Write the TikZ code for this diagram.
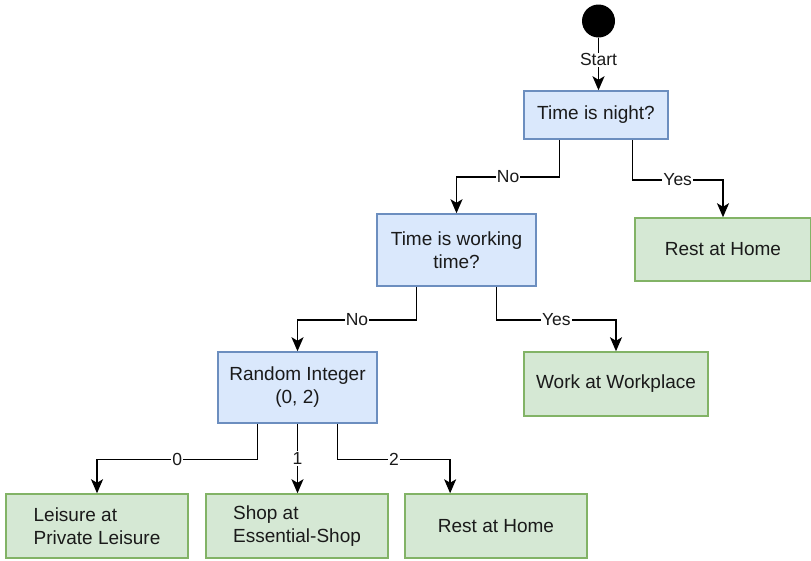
\documentclass[tikz,border=0pt]{standalone}
\usepackage{fontspec}
\setmainfont{Liberation Sans}
\usetikzlibrary{arrows.meta,calc}
\definecolor{qfill}{HTML}{DAE8FC}
\definecolor{qline}{HTML}{6C8EBF}
\definecolor{afill}{HTML}{D5E8D4}
\definecolor{aline}{HTML}{82B366}
\definecolor{ink}{HTML}{1A1A1A}

\begin{document}
\begin{tikzpicture}[x=1pt,y=-1pt,
  question/.style={rectangle, draw=qline, fill=qfill, line width=1.5pt,
    align=center, inner sep=0pt, text=ink, font=\fontsize{19}{23}\selectfont},
  action/.style={rectangle, draw=aline, fill=afill, line width=1.5pt,
    align=center, inner sep=0pt, text=ink, font=\fontsize{19}{23}\selectfont},
  startdot/.style={circle, fill=black, inner sep=0pt, minimum size=33pt},
  flow/.style={line width=1.5pt, -{Stealth[length=14pt,width=12pt,inset=3.5pt]}},
  lab/.style={fill=white, inner sep=1pt, text=ink, font=\fontsize{17.5}{19}\selectfont}]

\useasboundingbox (0,0) rectangle (811,560);

% decision nodes
\node[startdot] (start) at (598.5,21) {};
\node[question, minimum width=144pt, minimum height=48pt] (night) at (596,115) {Time is night?};
\node[question, minimum width=159pt, minimum height=72pt] (work) at (456.5,250) {Time is working\\time?};
\node[question, minimum width=159pt, minimum height=71pt] (rand) at (297.5,387.5) {Random Integer\\(0, 2)};

% activity nodes
\node[action, minimum width=176pt, minimum height=63pt] (restA) at (723,249.5) {Rest at Home};
\node[action, minimum width=184pt, minimum height=64pt] (job) at (616,384) {Work at Workplace};
\node[action, minimum width=182pt, minimum height=64pt, align=left] (leisure) at (97,526) {Leisure at\\Private Leisure};
\node[action, minimum width=182pt, minimum height=64pt, align=left] (shop) at (297,526) {Shop at\\Essential-Shop};
\node[action, minimum width=182pt, minimum height=64pt] (restB) at (496,526) {Rest at Home};

% entry point on the left part of the last box
\coordinate (restBin) at ($(restB.north west)!.25!(restB.north east)$);

% connectors
\draw[flow] (start.south) -- node[lab, pos=.42]{Start} (start.south |- night.north);

\draw[flow] ($(night.south west)!.25!(night.south east)$) -- ++(0,37)
  -| node[lab,pos=.25]{No} (work.north);
\draw[flow] ($(night.south west)!.75!(night.south east)$) -- ++(0,40)
  -| node[lab,pos=.25]{Yes} (restA.north);

\draw[flow] ($(work.south west)!.25!(work.south east)$) -- ++(0,33)
  -| node[lab,pos=.25]{No} (rand.north);
\draw[flow] ($(work.south west)!.75!(work.south east)$) -- ++(0,33)
  -| node[lab,pos=.25]{Yes} (job.north);

\draw[flow] ($(rand.south west)!.25!(rand.south east)$) -- ++(0,35.5)
  -| node[lab,pos=.25]{0} (leisure.north);
\draw[flow] (rand.south) -- node[lab]{1} (rand.south |- shop.north);
\draw[flow] ($(rand.south west)!.75!(rand.south east)$) -- ++(0,35.5)
  -| node[lab,pos=.25]{2} (restBin);

\end{tikzpicture}
\end{document}
